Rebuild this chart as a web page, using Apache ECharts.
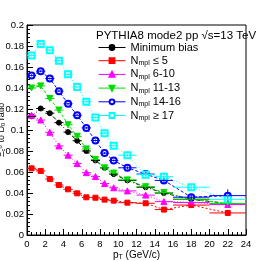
<!DOCTYPE html>
<html><head><meta charset="utf-8">
<script src="https://cdn.jsdelivr.net/npm/echarts@6/dist/echarts.min.js"></script>
<style>html,body{margin:0;padding:0;background:#fff}#c{width:274px;height:261px}</style>
</head><body><div id="c"></div>
<script>
const xCenters = [0.5,1.5,2.5,3.5,4.5,5.5,6.5,7.5,8.5,9.5,11,13,15,18,22];
const xHalfWidths = [0.5,0.5,0.5,0.5,0.5,0.5,0.5,0.5,0.5,0.5,1,1,1,2,2];
const minBias  = [0.113,0.1205,0.116,0.107,0.098,0.0898,0.080,0.071,0.064,0.058,0.052,0.0455,0.040,0.034,0.030];
const mplLe5   = [0.0635,0.061,0.0533,0.0476,0.0435,0.0397,0.0359,0.0355,0.0337,0.0327,0.0308,0.0302,0.0242,0.0285,0.021];
const mpl6to10 = [0.114,0.1095,0.0978,0.0848,0.076,0.068,0.0594,0.0556,0.049,0.045,0.042,0.038,0.0318,0.031,0.029];
const mpl11to13= [0.140,0.142,0.130,0.119,0.105,0.094,0.082,0.072,0.064,0.059,0.0525,0.046,0.0405,0.034,0.030];
const mpl14to16= [0.152,0.156,0.149,0.137,0.125,0.114,0.102,0.090,0.078,0.071,0.064,0.058,0.052,0.036,0.0375];
const mplGe17  = [0.171,0.182,0.176,0.166,0.153,0.141,0.127,0.112,0.097,0.085,0.076,0.0575,0.0555,0.0455,0.034];
const errMinBias  = [0.001,0.001,0.001,0.001,0.001,0.001,0.001,0.001,0.001,0.001,0.001,0.0015,0.002,0.002,0.003];
const errLe5      = [0.001,0.001,0.001,0.001,0.001,0.001,0.001,0.001,0.001,0.001,0.001,0.0015,0.002,0.002,0.003];
const err6to10    = [0.001,0.001,0.001,0.001,0.001,0.001,0.001,0.001,0.001,0.001,0.001,0.0015,0.002,0.002,0.003];
const err11to13   = [0.001,0.001,0.001,0.001,0.001,0.001,0.001,0.001,0.001,0.001,0.001,0.0015,0.002,0.002,0.003];
const err14to16   = [0.001,0.001,0.001,0.001,0.001,0.001,0.001,0.001,0.001,0.001,0.0015,0.002,0.003,0.003,0.006];
const errGe17     = [0.001,0.001,0.001,0.001,0.001,0.001,0.001,0.001,0.001,0.001,0.0015,0.002,0.003,0.003,0.005];
const titleText = 'PYTHIA8 mode2 pp \u221As=13 TeV';

const groups = [
  {name:'Minimum bias', vals:minBias, err:errMinBias, color:'#000000', symbol:'circle', size:5, dash:[4,2,1,2]},
  {name:'N_mpl \u2264 5', vals:mplLe5, err:errLe5, color:'#ff0000', symbol:'rect', size:5, dash:[2,2]},
  {name:'N_mpl 6-10', vals:mpl6to10, err:err6to10, color:'#ff00ff', symbol:'triangle', size:6, dash:[1,2]},
  {name:'N_mpl 11-13', vals:mpl11to13, err:err11to13, color:'#00dd00', symbol:'path://M0,0 L10,0 L5,9 Z', size:6, dash:[3,2]},
  {name:'N_mpl 14-16', vals:mpl14to16, err:err14to16, color:'#0000ff', symbol:'emptyCircle', size:6, dash:[3,2]},
  {name:'N_mpl \u2265 17', vals:mplGe17, err:errGe17, color:'#00ffff', symbol:'emptyRect', size:6, dash:[1,2]}
];

const series = [];
groups.forEach((g, gi) => {
  const pts = xCenters.map((x,i)=>[x, g.vals[i]]);
  series.push({
    name:g.name, type:'line', data:pts, symbol:g.symbol, symbolSize:g.size,
    showAllSymbol:true, z:2+gi,
    lineStyle:{color:g.color, width:1, type:g.dash},
    itemStyle:{color:g.color, borderColor:g.color, borderWidth:1},
    emphasis:{disabled:true}, animation:false
  });
  series.push({
    type:'custom', z:10+gi, silent:true, animation:false,
    data: xCenters.map((x,i)=>[x, g.vals[i], xHalfWidths[i], g.err[i]]),
    renderItem:(params, api)=>{
      const x=api.value(0), y=api.value(1), hw=api.value(2), e=api.value(3);
      const a=api.coord([x-hw,y]), b=api.coord([x+hw,y]);
      const c=api.coord([x,y-e]), d=api.coord([x,y+e]);
      return {type:'group', children:[
        {type:'line', shape:{x1:a[0],y1:a[1],x2:b[0],y2:b[1]}, style:{stroke:g.color, lineWidth:1}},
        {type:'line', shape:{x1:c[0],y1:c[1],x2:d[0],y2:d[1]}, style:{stroke:g.color, lineWidth:1}}
      ]};
    }
  });
});

const rich = {
  t:{fontSize:11, fontFamily:'Liberation Sans', color:'#000', lineHeight:12},
  s:{fontSize:7, fontFamily:'Liberation Sans', color:'#000', verticalAlign:'bottom', lineHeight:12, padding:[4,0,0,0]}
};
function legendFmt(name){
  if (name.indexOf('N_mpl')===0) {
    return '{t|N}{s|mpl}{t|' + name.slice(5) + '}';
  }
  return '{t|' + name + '}';
}

const chart = echarts.init(document.getElementById('c'), null, {renderer:'canvas'});
chart.setOption({
  animation:false,
  title:{text:titleText, left:96, top:30, padding:0, textStyle:{fontSize:11.5, fontWeight:'normal', fontFamily:'Liberation Sans', color:'#000'}},
  legend:{
    orient:'vertical', left:98, top:42, padding:0, itemWidth:27, itemHeight:6, itemGap:2.2,
    data:groups.map(g=>g.name), formatter:legendFmt,
    textStyle:{rich:rich, padding:[0,0,0,0]}, lineStyle:{type:'solid', width:1},
    selectedMode:false
  },
  grid:{left:27, top:25, right:28, bottom:26, outerBoundsMode:'none', containLabel:false, show:true, borderColor:'#000', borderWidth:1, backgroundColor:'transparent'},
  xAxis:{
    type:'value', min:0, max:24, interval:2,
    axisLine:{lineStyle:{color:'#000'}},
    axisTick:{inside:true, length:6, lineStyle:{color:'#000'}},
    minorTick:{show:true, splitNumber:4, length:3, lineStyle:{color:'#000'}},
    splitLine:{show:false},
    axisLabel:{fontSize:9.5, fontFamily:'Liberation Sans', color:'#000', margin:4},
    name:'p{sub|T} (GeV/c)', nameLocation:'middle', nameGap:15, nameMoveOverlap:false,
    nameTextStyle:{fontSize:10, fontFamily:'Liberation Sans', color:'#000', rich:{sub:{fontSize:7, verticalAlign:'bottom', padding:[4,0,0,0]}}}
  },
  yAxis:{
    type:'value', min:0, max:0.2, interval:0.02,
    axisLine:{lineStyle:{color:'#000'}},
    axisTick:{inside:true, length:6, lineStyle:{color:'#000'}},
    minorTick:{show:true, splitNumber:5, length:3, lineStyle:{color:'#000'}},
    splitLine:{show:false},
    axisLabel:{fontSize:9.5, fontFamily:'Liberation Sans', color:'#000', margin:3,
      formatter:v=> v===0 ? '0' : String(+v.toFixed(2))},
    name:'\u039E{sub|c}{sup|0} to D{sub|0} ratio', nameLocation:'middle', nameGap:21, nameRotate:90, nameMoveOverlap:false,
    nameTextStyle:{fontSize:9, fontFamily:'Liberation Sans', color:'#000', rich:{sub:{fontSize:6, verticalAlign:'bottom', padding:[3,0,0,0]}, sup:{fontSize:6, verticalAlign:'top'}}}
  },
  series:series
});
</script></body></html>
